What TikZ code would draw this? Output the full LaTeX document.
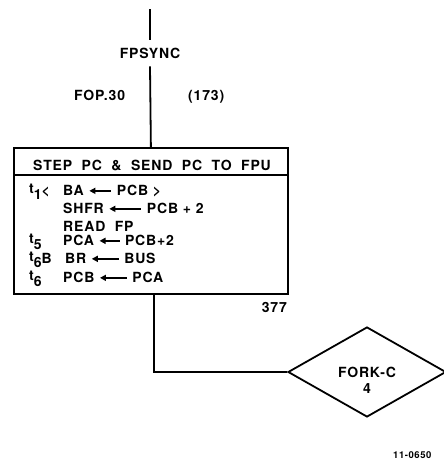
\documentclass[tikz,border=0pt]{standalone}
\usepackage{fontspec}
\setmainfont{TeX Gyre Heros}[LetterSpace=6]
\usepackage{tikz}
\usetikzlibrary{shapes.geometric, arrows.meta, positioning, calc}

% flecha de asignacion dentro del texto
\newcommand{\getsarr}[1]{\tikz[baseline=-0.55ex]\draw[line width=1.6pt, {Triangle[length=6pt,width=6pt]}-] (0pt,0pt) -- (#1pt,0pt);}
\newcommand{\tsub}[1]{\raisebox{0.25ex}{t}\raisebox{-0.55ex}{#1}}

\begin{document}
\begin{tikzpicture}[
        x=1pt, y=-1pt,
        % Estilos de cajas y textos
        lbl/.style={inner sep=0pt, font=\fontsize{14}{16}\selectfont\bfseries},
        stepbox/.style={draw, rectangle, line width=1.8pt, minimum width=274pt, minimum height=146pt, inner sep=0pt},
        forkbox/.style={draw, diamond, line width=1.8pt, minimum width=158pt, minimum height=90pt, inner sep=0pt},
        wire/.style={line width=1.8pt}
    ]
        \useasboundingbox (0,0) rectangle (444,464);
        \clip (0,0) rectangle (444,464);

        % Entrada
        \coordinate (top) at (150,9);
        \node[lbl] (sync) at (150,53) {FPSYNC};
        \node[lbl, anchor=base west] (fop) at (74,100) {FOP.30};
        \node[lbl, anchor=base west] (num) at (188,100) {(173)};

        % Caja del paso
        \node[stepbox, anchor=north west] (box) at (13,147) {};
        \draw[wire] ([yshift=-28pt]box.north west) -- ([yshift=-28pt]box.north east);
        \node[lbl] (head) at (152,165) {STEP\ \ PC\ \ \&\ \ SEND\ \ PC\ \ TO\ \ FPU};

        % Contenido
        \node[lbl, anchor=base west] (t1) at (29,195) {\tsub{1}<};
        \node[lbl, anchor=base west] (l1) at (63,195) {BA \getsarr{22} PCB >};
        \node[lbl, anchor=base west] (l2) at (63,213) {SHFR \getsarr{32} PCB + 2};
        \node[lbl, anchor=base west] (l3) at (63,231) {READ\ \ FP};
        \node[lbl, anchor=base west] (t5) at (29,245) {\tsub{5}};
        \node[lbl, anchor=base west] (l4) at (63,245) {PCA \getsarr{20} PCB+2};
        \node[lbl, anchor=base west] (t6b) at (29,263) {\tsub{6}B};
        \node[lbl, anchor=base west] (l5) at (65,263) {BR \getsarr{27} BUS};
        \node[lbl, anchor=base west] (t6) at (29,282) {\tsub{6}};
        \node[lbl, anchor=base west] (l6) at (63,282) {PCB \getsarr{27} PCA};
        \node[lbl, anchor=base east] (addr) at (287,312) {377};

        % Bifurcacion
        \node[forkbox] (fork) at (367,372) {};
        \node[lbl, align=center] (forklbl) at ([yshift=-8pt]fork.center) {FORK-C\\4};

        \node[inner sep=0pt, anchor=base west, font=\fontsize{9.5}{10}\selectfont\bfseries] (fig) at (393,458) {11-0650};

        % Lineas
        \draw[wire] (top) -- ([yshift=8pt]sync.north);
        \draw[wire] ([yshift=-8pt]sync.south) -- (box.north);
        \draw[wire] ([xshift=3pt]box.south) |- (fork.west);
    \end{tikzpicture}
\end{document}
